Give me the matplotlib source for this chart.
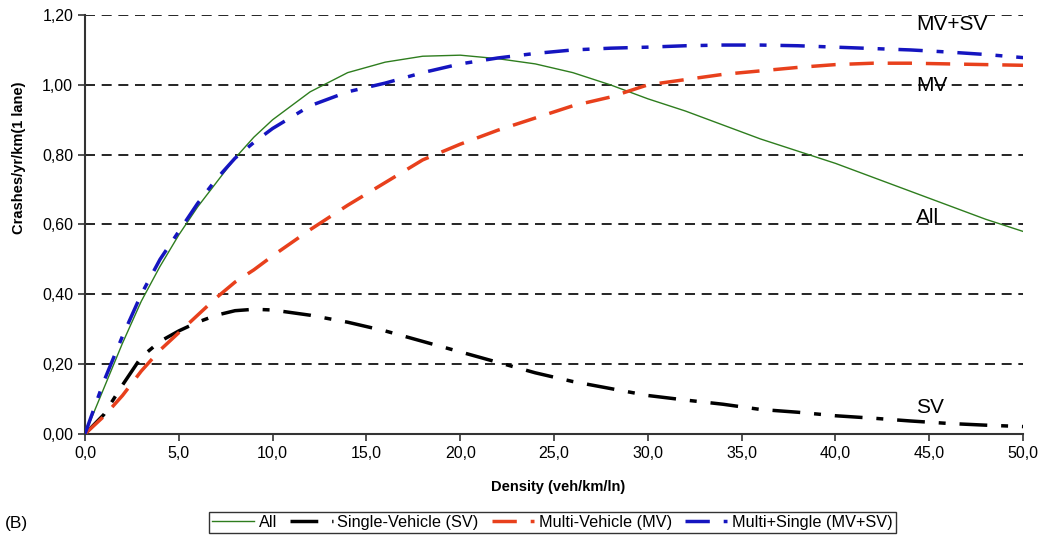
import numpy as np
import matplotlib
matplotlib.use('Agg')
import matplotlib.pyplot as plt
from matplotlib.ticker import FuncFormatter

plt.rcParams['font.family'] = ['Liberation Sans', 'DejaVu Sans']

# density (veh/km/ln)
dens = [0, 1, 2, 3, 4, 5, 6, 7, 8, 9, 10, 12, 14, 16, 18, 20, 22, 24, 26, 28,
        30, 32, 34, 36, 38, 40, 42, 44, 46, 48, 50]

all_crash = [0, 0.13, 0.26, 0.38, 0.48, 0.57, 0.65, 0.72, 0.79, 0.85, 0.90, 0.98,
             1.035, 1.065, 1.082, 1.085, 1.075, 1.06, 1.035, 1.0, 0.96, 0.925,
             0.885, 0.845, 0.81, 0.775, 0.735, 0.695, 0.655, 0.615, 0.58]
sv = [0, 0.055, 0.14, 0.22, 0.265, 0.295, 0.32, 0.34, 0.353, 0.357, 0.355, 0.34,
      0.32, 0.295, 0.265, 0.235, 0.205, 0.175, 0.15, 0.13, 0.11, 0.097, 0.085,
      0.07, 0.062, 0.052, 0.045, 0.037, 0.03, 0.025, 0.021]
mv = [0, 0.05, 0.11, 0.18, 0.24, 0.29, 0.34, 0.39, 0.435, 0.47, 0.51, 0.585,
      0.655, 0.72, 0.785, 0.83, 0.87, 0.905, 0.94, 0.965, 1.0, 1.015, 1.03,
      1.04, 1.05, 1.058, 1.062, 1.062, 1.06, 1.058, 1.056]
mvsv = [0, 0.15, 0.28, 0.40, 0.50, 0.58, 0.66, 0.73, 0.79, 0.835, 0.875, 0.94,
        0.98, 1.005, 1.035, 1.06, 1.077, 1.09, 1.10, 1.105, 1.108, 1.112, 1.114,
        1.114, 1.112, 1.108, 1.104, 1.10, 1.094, 1.087, 1.078]

fig = plt.figure(figsize=(10.44, 5.37), dpi=100)
ax = fig.add_axes([0.0814, 0.192, 0.8986, 0.78])

for yv in np.arange(0.2, 1.21, 0.2):
    ax.axhline(yv, color='black', lw=1.2, ls=(0, (6, 4)), zorder=1)

ax.plot(dens, all_crash, color='#2e7d1e', lw=1.0, label='All', zorder=3)
ax.plot(dens, sv, color='black', lw=2.5, ls=(0, (8, 4, 2, 4)),
        label='Single-Vehicle (SV)', zorder=3)
ax.plot(dens, mv, color='#e8401c', lw=2.5, ls=(0, (7, 4)),
        label='Multi-Vehicle (MV)', zorder=3)
ax.plot(dens, mvsv, color='#1515c0', lw=2.5, ls=(0, (7, 4, 2, 4)),
        label='Multi+Single (MV+SV)', zorder=3)

ax.set_xlim(0, 50)
ax.set_ylim(0, 1.2)
ax.set_xticks(np.arange(0, 50.1, 5))
ax.set_yticks(np.arange(0, 1.21, 0.2))
ax.xaxis.set_major_formatter(FuncFormatter(lambda v, p: f'{v:.1f}'.replace('.', ',')))
ax.yaxis.set_major_formatter(FuncFormatter(lambda v, p: f'{v:.2f}'.replace('.', ',')))
ax.tick_params(labelsize=11.5, length=5, width=1.2, color='#333333')
ax.spines['top'].set_visible(False)
ax.spines['right'].set_visible(False)
ax.spines['left'].set_linewidth(1.5)
ax.spines['bottom'].set_linewidth(1.5)
ax.spines['left'].set_color('#333333')
ax.spines['bottom'].set_color('#333333')

for txt, yv in [('MV+SV', 1.172), ('MV', 0.997), ('All', 0.619), ('SV', 0.077)]:
    ax.text(44.3, yv, txt, fontsize=15, va='center', ha='left', zorder=4)

fig.text(0.018, 0.706, 'Crashes/yr/km(1 lane)', fontsize=10.5, fontweight='bold',
         rotation=90, ha='center', va='center')
fig.text(0.535, 0.093, 'Density (veh/km/ln)', fontsize=10.5, fontweight='bold',
         ha='center', va='center')
fig.text(0.005, 0.025, '(B)', fontsize=12.5, ha='left', va='center')

leg = fig.legend(loc='center', bbox_to_anchor=(0.529, 0.027), ncol=4, fontsize=11.7,
                 frameon=True, fancybox=False, edgecolor='black', borderpad=0.2,
                 handlelength=2.6, columnspacing=0.8, handletextpad=0.3)
leg.get_frame().set_linewidth(1.0)

fig.savefig('out.png', dpi=100)
